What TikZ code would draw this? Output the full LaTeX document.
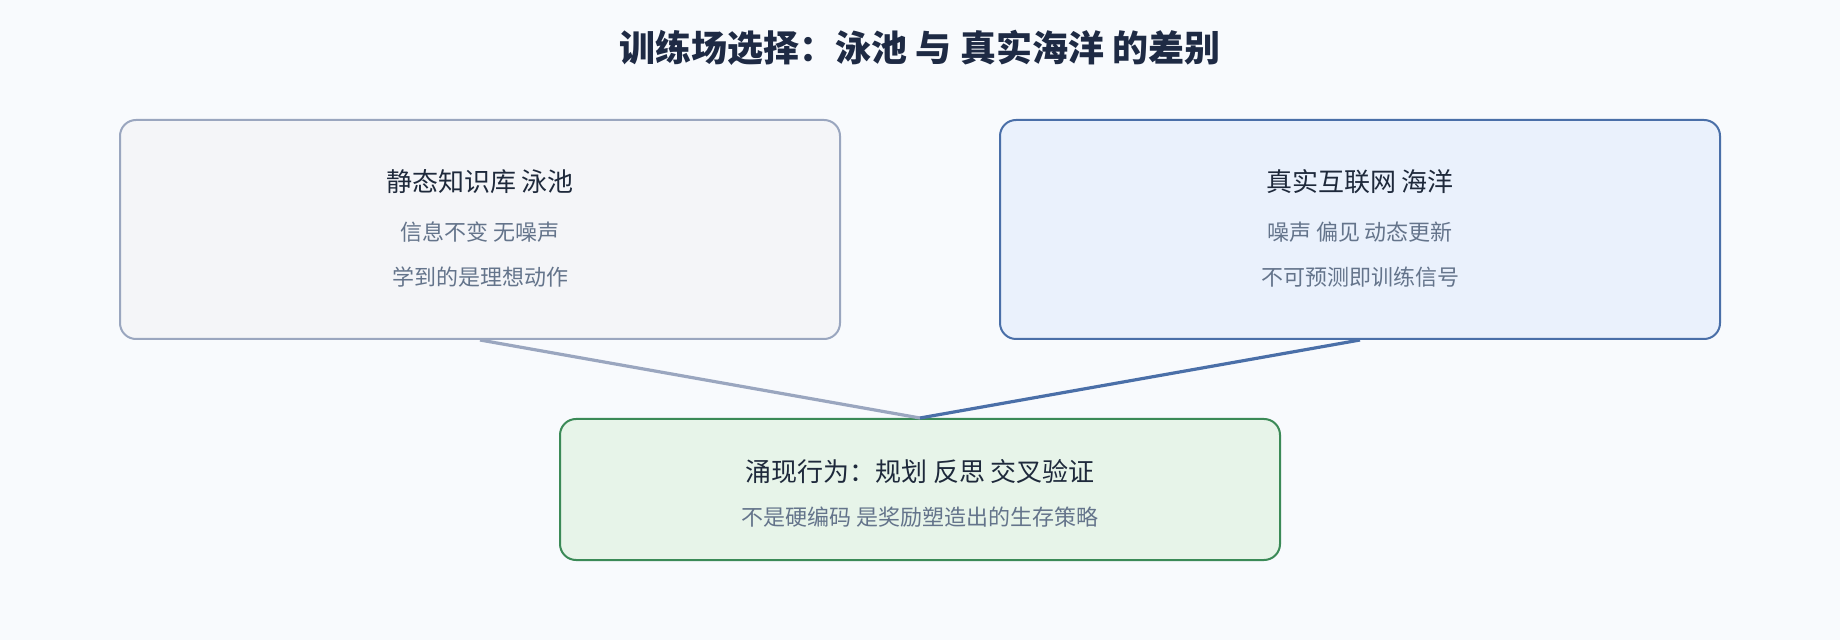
\documentclass[tikz,border=0pt]{standalone}
\usepackage{fontspec}
\setmainfont{Noto Sans CJK SC}
\begin{document}
\begin{tikzpicture}[x=0.5pt,y=-0.5pt,
  box/.style={draw, rounded corners=8pt, line width=1pt, inner sep=0pt, minimum width=360pt},
  maintxt/.style={text=maincol, font=\fontsize{13}{15}\selectfont, inner sep=0pt},
  subtxt/.style={text=subcol, font=\fontsize{11}{13}\selectfont, inner sep=0pt},
  conn/.style={line width=1.6pt}]
\definecolor{bgcol}{HTML}{F8FAFD}
\definecolor{maincol}{HTML}{1E293B}
\definecolor{subcol}{HTML}{64748B}
\definecolor{titlecol}{HTML}{1E2A44}
\definecolor{poolfill}{HTML}{F4F5F8}
\definecolor{pooldraw}{HTML}{9AA6BF}
\definecolor{oceanfill}{HTML}{EAF1FC}
\definecolor{oceandraw}{HTML}{4A6FA8}
\definecolor{emfill}{HTML}{E7F4E9}
\definecolor{emdraw}{HTML}{3B8A57}
\fill[bgcol] (0,0) rectangle (1840,640);
\useasboundingbox (0,0) rectangle (1840,640);
\node[text=titlecol, font=\fontsize{18}{22}\selectfont\bfseries, inner sep=0pt] (title) at (920,48) {训练场选择：泳池 与 真实海洋 的差别};
\node[box, fill=poolfill, draw=pooldraw, minimum height=109.5pt] (pool) at (480,229.5) {};
\node[box, fill=oceanfill, draw=oceandraw, minimum height=109.5pt] (ocean) at (1360,229.5) {};
\node[box, fill=emfill, draw=emdraw, minimum height=70.5pt] (emerge) at (920,489.5) {};
\draw[conn, pooldraw] (pool.south) -- (emerge.north);
\draw[conn, oceandraw] (ocean.south) -- (emerge.north);
\node[maintxt] (poolt) at (480,182) {静态知识库 泳池};
\node[subtxt] (pools1) at (480,232) {信息不变 无噪声};
\node[subtxt] (pools2) at (480,277) {学到的是理想动作};
\node[maintxt] (oceant) at (1360,182) {真实互联网 海洋};
\node[subtxt] (oceans1) at (1360,232) {噪声 偏见 动态更新};
\node[subtxt] (oceans2) at (1360,277) {不可预测即训练信号};
\node[maintxt] (emt) at (920,472) {涌现行为：规划 反思 交叉验证};
\node[subtxt] (ems) at (920,517) {不是硬编码 是奖励塑造出的生存策略};
\end{tikzpicture}
\end{document}
